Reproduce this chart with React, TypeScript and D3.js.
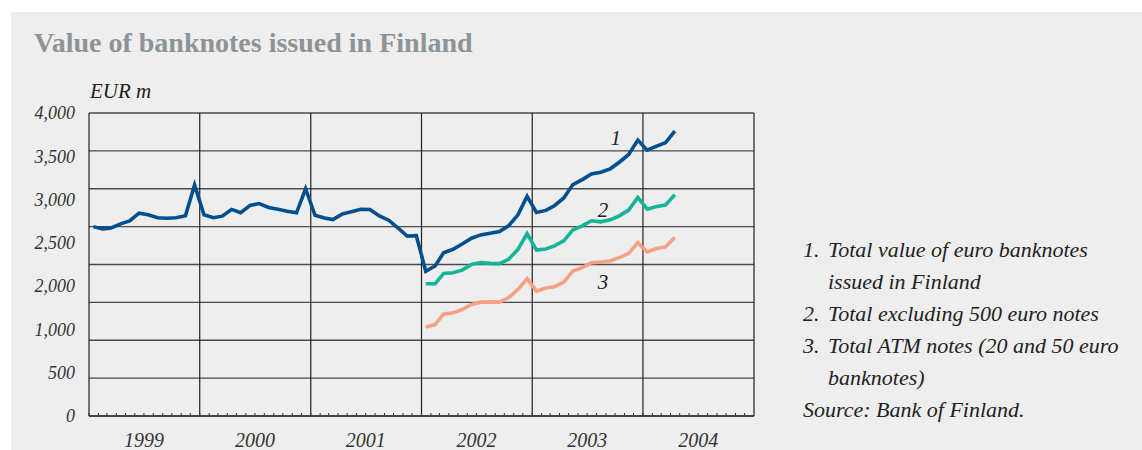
import * as d3 from "d3";
import { useEffect, useRef } from "react";

// monthly values, EUR m (mid-month)
const totalValue = [
  2500, 2470, 2483, 2537, 2575, 2677, 2656, 2617, 2611, 2617, 2643, 3050,
  2656, 2617, 2638, 2727, 2683, 2780, 2805, 2753, 2730, 2704, 2683, 3000,
  2650, 2615, 2594, 2668, 2695, 2730, 2727, 2642, 2585, 2485, 2375, 2380,
  1910, 1980, 2156, 2201, 2271, 2347, 2391, 2413, 2435, 2510, 2656, 2900,
  2687, 2714, 2776, 2878, 3055, 3121, 3196, 3218, 3263, 3350, 3453, 3642,
  3509, 3562, 3607, 3762,
];
const excl500 = [
  1745, 1745, 1882, 1891, 1926, 2002, 2024, 2015, 2011, 2068, 2200, 2408,
  2191, 2205, 2245, 2311, 2457, 2510, 2577, 2563, 2590, 2643, 2718, 2886,
  2731, 2767, 2784, 2921,
];
const atmNotes = [
  1176, 1207, 1348, 1362, 1406, 1472, 1503, 1507, 1503, 1561, 1671, 1812,
  1649, 1690, 1707, 1768, 1914, 1958, 2024, 2033, 2046, 2090, 2147, 2289,
  2165, 2210, 2232, 2356,
];
const years = [1999, 2000, 2001, 2002, 2003, 2004];
const yLabels = ["0", "500", "1,000", "2,000", "2,500", "3,000", "3,500", "4,000"];
const legendLines = [
  ["1.", "Total value of euro banknotes"],
  ["", "issued in Finland"],
  ["2.", "Total excluding 500 euro notes"],
  ["3.", "Total ATM notes (20 and 50 euro"],
  ["", "banknotes)"],
];

const serif = "Liberation Serif, DejaVu Serif, serif";

export default function App() {
  const svgRef = useRef(null);

  useEffect(() => {
    const width = 1142, height = 450;
    const left = 89, right = 754, top = 113, bottom = 416;
    const svg = d3.select(svgRef.current).attr("width", width).attr("height", height);
    svg.selectAll("*").remove();

    svg.append("rect").attr("x", 11).attr("y", 12).attr("width", width - 11).attr("height", height - 12).attr("fill", "#eeeeee");

    svg.append("text").attr("x", 34).attr("y", 52)
      .attr("font-family", serif).attr("font-weight", "bold").attr("font-size", 28)
      .attr("fill", "#8d9499").text("Value of banknotes issued in Finland");

    const x = d3.scaleTime([new Date(1999, 0, 1), new Date(2005, 0, 1)], [left, right]);
    const y = d3.scaleLinear([0, 4000], [bottom, top]);
    const yl = d3.scalePoint(yLabels, [bottom, top]);

    // horizontal grid
    svg.append("g").selectAll("line").data(y.ticks(8)).join("line")
      .attr("x1", left).attr("x2", right)
      .attr("y1", (d) => y(d)).attr("y2", (d) => y(d))
      .attr("stroke", "#4a4a4a").attr("stroke-width", 1.3);

    // year boundaries
    const yearLines = d3.timeYear.range(new Date(1999, 0, 1), new Date(2005, 0, 2));
    svg.append("g").selectAll("line").data(yearLines).join("line")
      .attr("x1", (d) => x(d)).attr("x2", (d) => x(d))
      .attr("y1", top).attr("y2", bottom)
      .attr("stroke", "#222").attr("stroke-width", 1.2);

    // month ticks
    svg.append("g").selectAll("line").data(d3.timeMonth.range(new Date(1999, 0, 1), new Date(2005, 0, 1))).join("line")
      .attr("x1", (d) => x(d)).attr("x2", (d) => x(d))
      .attr("y1", bottom).attr("y2", bottom - 3)
      .attr("stroke", "#333").attr("stroke-width", 1);

    svg.append("line").attr("x1", left).attr("x2", right).attr("y1", bottom).attr("y2", bottom)
      .attr("stroke", "#333").attr("stroke-width", 1.5);

    svg.append("g").selectAll("text").data(yLabels).join("text")
      .attr("x", 75).attr("y", (d) => yl(d)).attr("dy", "0.35em")
      .attr("text-anchor", "end")
      .attr("font-family", serif).attr("font-style", "italic").attr("font-size", 18)
      .attr("fill", "#333").text((d) => d);

    svg.append("g").selectAll("text").data(years).join("text")
      .attr("x", (d) => x(new Date(d, 6, 1))).attr("y", 447)
      .attr("text-anchor", "middle")
      .attr("font-family", serif).attr("font-style", "italic").attr("font-size", 20)
      .attr("fill", "#333").text((d) => d);

    svg.append("text").attr("x", 90).attr("y", 98)
      .attr("font-family", serif).attr("font-style", "italic").attr("font-size", 21)
      .attr("fill", "#222").text("EUR m");

    const mid = (start, i) => new Date(start, i, 15);
    const line = d3.line().x((d) => x(d[0])).y((d) => y(d[1]));
    const series = [
      { values: totalValue, start: 1999, color: "#00508f", label: "1", at: [new Date(2003, 9, 3), 3670] },
      { values: excl500, start: 2002, color: "#12b597", label: "2", at: [new Date(2003, 7, 22), 2720] },
      { values: atmNotes, start: 2002, color: "#f6a083", label: "3", at: [new Date(2003, 7, 22), 1769] },
    ];
    series.forEach((s) => {
      svg.append("path")
        .datum(s.values.map((v, i) => [mid(s.start, i), v]))
        .attr("d", line).attr("fill", "none")
        .attr("stroke", s.color).attr("stroke-width", 3.6).attr("stroke-linejoin", "miter");
      svg.append("text")
        .attr("x", x(s.at[0])).attr("y", y(s.at[1])).attr("dy", "0.35em")
        .attr("text-anchor", "middle")
        .attr("font-family", serif).attr("font-style", "italic").attr("font-size", 21)
        .attr("fill", "#222").text(s.label);
    });

    const lg = svg.append("g").attr("font-family", serif).attr("font-style", "italic").attr("font-size", 22).attr("fill", "#222");
    legendLines.forEach(([n, t], i) => {
      if (n) lg.append("text").attr("x", 803).attr("y", 257 + i * 32).text(n);
      lg.append("text").attr("x", 828).attr("y", 257 + i * 32).text(t);
    });
    lg.append("text").attr("x", 803).attr("y", 257 + legendLines.length * 32).text("Source: Bank of Finland.");
  }, []);

  return (
    <div style={{ position: "absolute", left: 0, top: 0 }}>
      <svg ref={svgRef} style={{ display: "block", background: "#fff" }} />
    </div>
  );
}
